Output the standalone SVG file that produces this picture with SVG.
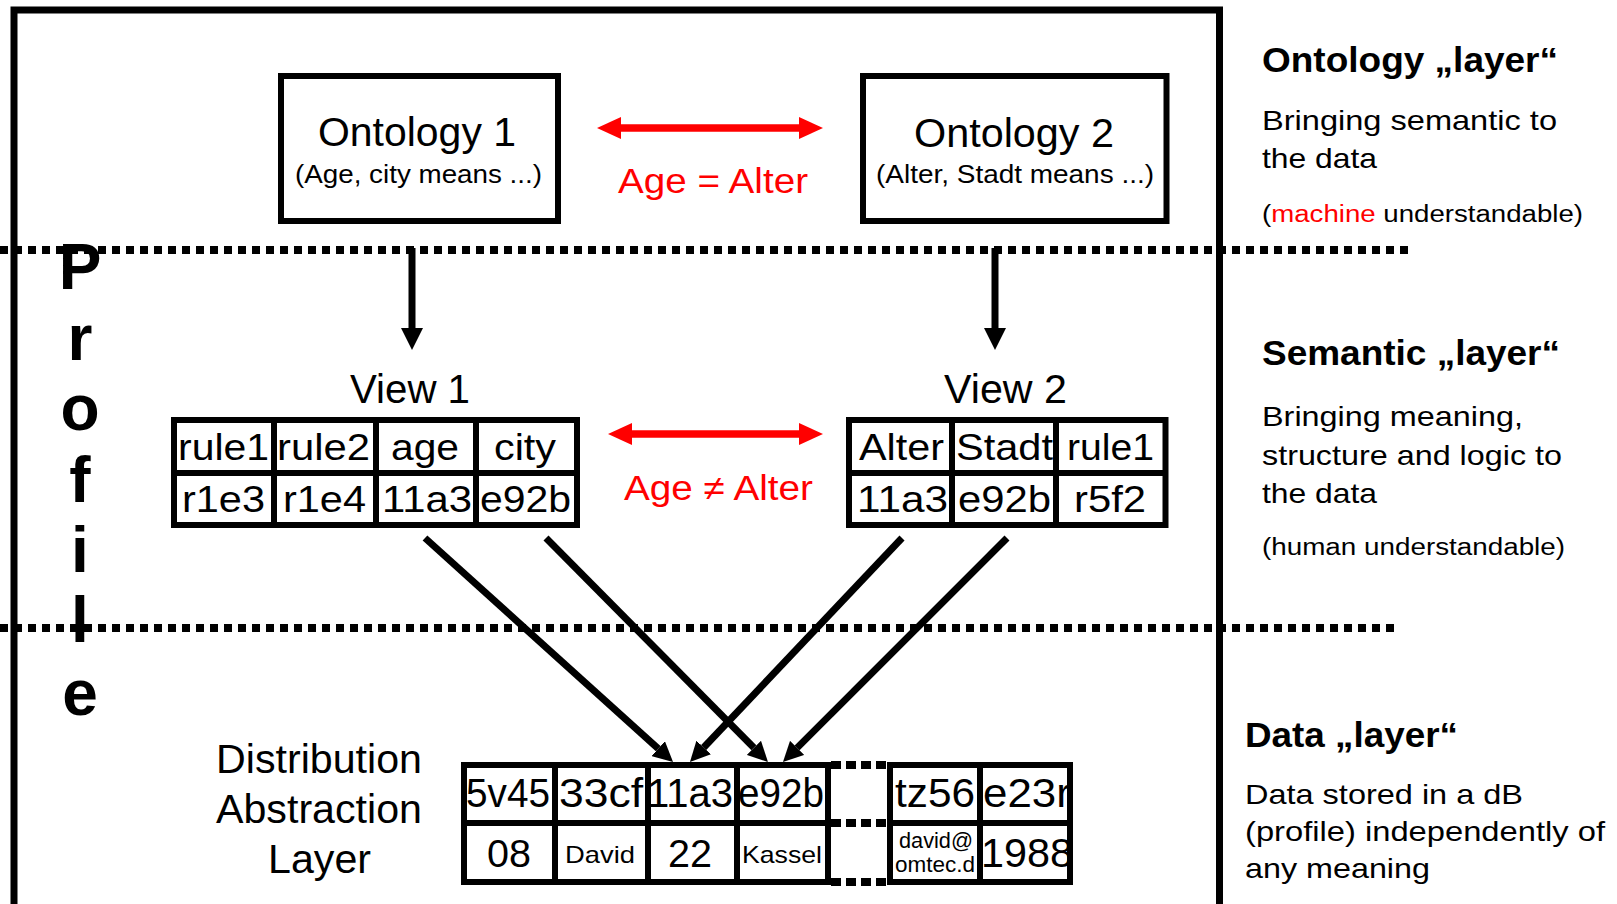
<svg xmlns="http://www.w3.org/2000/svg" width="1617" height="904" viewBox="0 0 1617 904">
  <style>
    text { font-family: "Liberation Sans", Arial, sans-serif; fill: #000; }
    .box { fill: #fff; stroke: #000; stroke-width: 6; }
    .grid { fill: none; stroke: #000; stroke-width: 6; }
    .frame { fill: none; stroke: #000; stroke-width: 7; }
    .dots { stroke: #000; stroke-width: 8; stroke-dasharray: 8 6; fill: none; }
    .dots2 { stroke: #000; stroke-width: 8; stroke-dasharray: 10 5; fill: none; }
    .conn { stroke: #000; stroke-width: 7; fill: none; }
    .red { stroke: #ff0000; stroke-width: 7.5; fill: none; }
    .redtxt { fill: #ff0000; font-size: 35px; }
    .mid { text-anchor: middle; }
    .head { font-size: 35px; font-weight: bold; }
    .body { font-size: 28px; }
    .note { font-size: 23px; }
    .cell { font-size: 37px; text-anchor: middle; }
    .small { font-size: 24px; text-anchor: middle; }
    .tiny { font-size: 22px; text-anchor: middle; }
    .profile { font-size: 64px; font-weight: bold; text-anchor: middle; }
  </style>
  <defs>
    <marker id="arrowBlack" viewBox="0 0 22 22" markerWidth="22" markerHeight="22" refX="0" refY="11" orient="auto" markerUnits="userSpaceOnUse">
      <path d="M0,0 L22,11 L0,22 z" fill="#000"/>
    </marker>
    <marker id="arrowBlackSm" viewBox="0 0 20 20" markerWidth="20" markerHeight="20" refX="0" refY="10" orient="auto" markerUnits="userSpaceOnUse">
      <path d="M0,0 L20,10 L0,20 z" fill="#000"/>
    </marker>
    <marker id="arrowRed" viewBox="0 0 24 22" markerWidth="24" markerHeight="22" refX="0" refY="11" orient="auto-start-reverse" markerUnits="userSpaceOnUse">
      <path d="M0,0 L24,11 L0,22 z" fill="#ff0000"/>
    </marker>
    <clipPath id="clipRight">
      <rect x="983" y="768" width="84" height="110"/>
    </clipPath>
  </defs>

  <rect x="0" y="0" width="1617" height="904" fill="#fff"/>

  <!-- profile frame -->
  <rect class="frame" x="14" y="10" width="1205.5" height="1000"/>

  <!-- layer separators -->
  <g id="separators">
    <line class="dots" x1="0" y1="250" x2="1408" y2="250"/>
    <line class="dots" x1="0" y1="628" x2="1397" y2="628"/>
  </g>

  <!-- vertical "Profile" label -->
  <g id="profile-label">
    <text class="profile" x="80" y="289">P</text>
    <text class="profile" x="80" y="360">r</text>
    <text class="profile" x="80" y="430">o</text>
    <text class="profile" x="80" y="502">f</text>
    <text class="profile" x="80" y="572">i</text>
    <text class="profile" x="80" y="642">l</text>
    <text class="profile" x="80" y="715">e</text>
  </g>

  <!-- ontologies -->
  <g id="ontology1">
    <rect class="box" x="281" y="76" width="277" height="145"/>
    <text class="mid" x="417" y="146" font-size="41" textLength="198" lengthAdjust="spacingAndGlyphs">Ontology 1</text>
    <text class="mid" x="418.5" y="183" font-size="25" textLength="247" lengthAdjust="spacingAndGlyphs">(Age, city means ...)</text>
  </g>
  <g id="ontology2">
    <rect class="box" x="863" y="76" width="303.5" height="145"/>
    <text class="mid" x="1014" y="147" font-size="41" textLength="200" lengthAdjust="spacingAndGlyphs">Ontology 2</text>
    <text class="mid" x="1015" y="183" font-size="25" textLength="278" lengthAdjust="spacingAndGlyphs">(Alter, Stadt means ...)</text>
  </g>

  <!-- views -->
  <g id="view1">
    <text class="mid" x="410" y="403" font-size="40" textLength="120" lengthAdjust="spacingAndGlyphs">View 1</text>
    <rect class="box" x="174" y="420" width="403" height="105"/>
    <path class="grid" d="M174,473 H577 M274,420 V525 M376,420 V525 M476,420 V525"/>
    <text class="cell" x="223.5" y="460" textLength="91" lengthAdjust="spacingAndGlyphs">rule1</text>
    <text class="cell" x="323.5" y="460" textLength="93" lengthAdjust="spacingAndGlyphs">rule2</text>
    <text class="cell" x="425" y="460" textLength="68" lengthAdjust="spacingAndGlyphs">age</text>
    <text class="cell" x="525" y="460" textLength="62" lengthAdjust="spacingAndGlyphs">city</text>
    <text class="cell" x="223.5" y="512" textLength="83" lengthAdjust="spacingAndGlyphs">r1e3</text>
    <text class="cell" x="324.5" y="512" textLength="83" lengthAdjust="spacingAndGlyphs">r1e4</text>
    <text class="cell" x="427" y="512" textLength="90" lengthAdjust="spacingAndGlyphs">11a3</text>
    <text class="cell" x="525.5" y="512" textLength="91" lengthAdjust="spacingAndGlyphs">e92b</text>
  </g>
  <g id="view2">
    <text class="mid" x="1005.5" y="403" font-size="40" textLength="123" lengthAdjust="spacingAndGlyphs">View 2</text>
    <rect class="box" x="849" y="420" width="316.5" height="105"/>
    <path class="grid" d="M849,473 H1165.5 M952,420 V525 M1056,420 V525"/>
    <text class="cell" x="901.5" y="460" textLength="85" lengthAdjust="spacingAndGlyphs">Alter</text>
    <text class="cell" x="1004.5" y="460" textLength="97" lengthAdjust="spacingAndGlyphs">Stadt</text>
    <text class="cell" x="1110.5" y="460" textLength="87" lengthAdjust="spacingAndGlyphs">rule1</text>
    <text class="cell" x="902.5" y="512" textLength="91" lengthAdjust="spacingAndGlyphs">11a3</text>
    <text class="cell" x="1004.5" y="512" textLength="93" lengthAdjust="spacingAndGlyphs">e92b</text>
    <text class="cell" x="1110" y="512" textLength="72" lengthAdjust="spacingAndGlyphs">r5f2</text>
  </g>

  <!-- distribution abstraction layer -->
  <g id="dal-label">
    <text class="mid" x="319" y="773" font-size="40" textLength="206" lengthAdjust="spacingAndGlyphs">Distribution</text>
    <text class="mid" x="319" y="823" font-size="40" textLength="206" lengthAdjust="spacingAndGlyphs">Abstraction</text>
    <text class="mid" x="319.5" y="873" font-size="40" textLength="103" lengthAdjust="spacingAndGlyphs">Layer</text>
  </g>
  <g id="data-store">
    <path class="dots2" d="M831,765 H887 M831,823 H887 M831,882 H887"/>
    <rect class="box" x="464" y="765" width="364" height="117"/>
    <path class="grid" d="M464,823 H828 M555,765 V882 M648,765 V882 M737,765 V882"/>
    <text class="cell" x="508" y="807" font-size="41" textLength="84" lengthAdjust="spacingAndGlyphs" style="font-size:41px">5v45</text>
    <text class="cell" x="601" y="807" textLength="84" lengthAdjust="spacingAndGlyphs" style="font-size:41px">33cf</text>
    <text class="cell" x="690" y="807" textLength="86" lengthAdjust="spacingAndGlyphs" style="font-size:41px">11a3</text>
    <text class="cell" x="781" y="807" textLength="86" lengthAdjust="spacingAndGlyphs" style="font-size:41px">e92b</text>
    <text class="cell" x="509" y="867" textLength="44" lengthAdjust="spacingAndGlyphs" style="font-size:39px">08</text>
    <text class="small" x="600" y="863" textLength="70" lengthAdjust="spacingAndGlyphs">David</text>
    <text class="cell" x="690" y="867" textLength="44" lengthAdjust="spacingAndGlyphs" style="font-size:39px">22</text>
    <text class="small" x="782" y="863" textLength="80" lengthAdjust="spacingAndGlyphs">Kassel</text>

    <rect class="box" x="890" y="765" width="180" height="117"/>
    <path class="grid" d="M890,823 H1070 M980,765 V882"/>
    <text class="cell" x="935" y="807" textLength="80" lengthAdjust="spacingAndGlyphs" style="font-size:41px">tz56</text>
    <g clip-path="url(#clipRight)">
      <text x="983" y="807" textLength="100" lengthAdjust="spacingAndGlyphs" style="font-size:41px">e23rt</text>
      <text x="981" y="867" textLength="92" lengthAdjust="spacingAndGlyphs" style="font-size:41px">1988</text>
    </g>
    <text class="tiny" x="936" y="848" textLength="74" lengthAdjust="spacingAndGlyphs">david@</text>
    <text class="tiny" x="935" y="872" textLength="80" lengthAdjust="spacingAndGlyphs">omtec.d</text>
  </g>

  <!-- connectors -->
  <g id="connectors">
    <line class="red" x1="621" y1="128" x2="799" y2="128" marker-start="url(#arrowRed)" marker-end="url(#arrowRed)"/>
    <text class="redtxt mid" x="713" y="193" textLength="190" lengthAdjust="spacingAndGlyphs">Age = Alter</text>
    <line class="red" x1="632" y1="434" x2="799" y2="434" marker-start="url(#arrowRed)" marker-end="url(#arrowRed)"/>
    <text class="redtxt mid" x="718.5" y="500" textLength="189" lengthAdjust="spacingAndGlyphs">Age ≠ Alter</text>

    <line class="conn" x1="412" y1="248" x2="412" y2="328" marker-end="url(#arrowBlack)"/>
    <line class="conn" x1="995" y1="248" x2="995" y2="328" marker-end="url(#arrowBlack)"/>

    <line class="conn" x1="425" y1="538" x2="658.2" y2="748.6" marker-end="url(#arrowBlackSm)"/>
    <line class="conn" x1="546" y1="538" x2="753.9" y2="747.8" marker-end="url(#arrowBlackSm)"/>
    <line class="conn" x1="902" y1="538" x2="703.7" y2="747.5" marker-end="url(#arrowBlackSm)"/>
    <line class="conn" x1="1007" y1="538" x2="797.1" y2="747.9" marker-end="url(#arrowBlackSm)"/>
  </g>

  <!-- layer descriptions -->
  <g id="desc-ontology">
    <text class="head" x="1262" y="72" textLength="296" lengthAdjust="spacingAndGlyphs">Ontology „layer“</text>
    <text class="body" x="1262" y="130" textLength="295" lengthAdjust="spacingAndGlyphs">Bringing semantic to</text>
    <text class="body" x="1262" y="168" textLength="115" lengthAdjust="spacingAndGlyphs">the data</text>
    <text class="note" x="1262" y="222" textLength="321" lengthAdjust="spacingAndGlyphs">(<tspan fill="#ff0000">machine</tspan> understandable)</text>
  </g>
  <g id="desc-semantic">
    <text class="head" x="1262" y="365" textLength="298" lengthAdjust="spacingAndGlyphs">Semantic „layer“</text>
    <text class="body" x="1262" y="426" textLength="261" lengthAdjust="spacingAndGlyphs">Bringing meaning,</text>
    <text class="body" x="1262" y="465" textLength="300" lengthAdjust="spacingAndGlyphs">structure and logic to</text>
    <text class="body" x="1262" y="503" textLength="115" lengthAdjust="spacingAndGlyphs">the data</text>
    <text class="note" x="1262" y="555" textLength="303" lengthAdjust="spacingAndGlyphs">(human understandable)</text>
  </g>
  <g id="desc-data">
    <text class="head" x="1245" y="747" textLength="213" lengthAdjust="spacingAndGlyphs">Data „layer“</text>
    <text class="body" x="1245" y="804" textLength="278" lengthAdjust="spacingAndGlyphs">Data stored in a dB</text>
    <text class="body" x="1245" y="841" textLength="360" lengthAdjust="spacingAndGlyphs">(profile) independently of</text>
    <text class="body" x="1245" y="878" textLength="185" lengthAdjust="spacingAndGlyphs">any meaning</text>
  </g>
</svg>
